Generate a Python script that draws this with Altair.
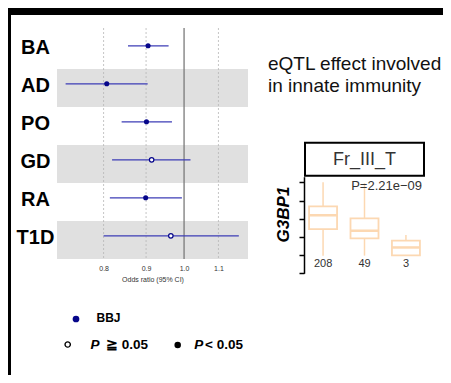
import altair as alt
import pandas as pd

FONT = "Liberation Sans"

# ---------------- forest plot data ----------------
traits = ["BA", "AD", "PO", "GD", "RA", "T1D"]
odds = [0.905, 0.807, 0.901, 0.914, 0.899, 0.964]
ci_low = [0.856, 0.720, 0.841, 0.819, 0.814, 0.800]
ci_high = [0.958, 0.904, 0.967, 1.018, 0.994, 1.164]
significant = [True, True, True, False, True, False]
shaded_rows = ["AD", "GD", "T1D"]
grid_ticks = [0.8, 0.9, 1.1]
axis_ticks = [0.8, 0.9, 1.0, 1.1]

# ---------------- box plot data ----------------
groups = ["208", "49", "3"]
box_min = [0.97, 0.97, 0.99]
box_q1 = [2.43, 1.92, 0.99]
box_med = [3.19, 2.34, 1.42]
box_q3 = [3.68, 3.02, 1.80]
box_max = [5.00, 4.95, 2.10]
strip_label = "Fr_III_T"
p_label = "P=2.21e\u221209"
gene = "G3BP1"

forest = pd.DataFrame({"trait": traits, "OR": odds, "lo": ci_low,
                       "hi": ci_high, "sig": significant})
bands = pd.DataFrame({"trait": shaded_rows})
grid = pd.DataFrame({"v": grid_ticks})
box = pd.DataFrame({"g": groups, "mn": box_min, "q1": box_q1, "med": box_med,
                    "q3": box_q3, "mx": box_max})

W1, H1 = 191, 231
NAVY = "#06068a"
LINE = "#3c3cb6"
PEACH = "#fcd8b2"

xs = alt.Scale(type="log", domain=[0.703, 1.194], nice=False, zero=False)
ys = alt.Scale(type="band", domain=traits, paddingInner=0, paddingOuter=0, range=[3, 231])

x_axis = alt.Axis(values=axis_ticks, format=".1f", labelFontSize=7, labelColor="#333",
                  ticks=False, tickSize=0, domain=False, grid=False, labelPadding=5,
                  title="Odds ratio (95% CI)", titleFontSize=7, titleFontWeight="normal",
                  titleColor="#333", titlePadding=4, labelFont=FONT, titleFont=FONT)
y_axis = alt.Axis(title=None, labelFontSize=20, labelFontWeight="bold", labelColor="black",
                  labelAlign="center", labelBaseline="middle", labelPadding=22, labelOffset=-2.5,
                  ticks=False, tickSize=0, domain=False, grid=False, labelFont=FONT,
                  labelLimit=200)

band_layer = alt.Chart(bands).mark_rect(color="#e0e0e0").encode(
    y=alt.Y("trait:N", scale=ys, axis=y_axis),
    x=alt.value(0), x2=alt.value(W1))
grid_layer = alt.Chart(grid).mark_rule(color="#b5b5b5", strokeDash=[2, 2], strokeWidth=0.8).encode(
    x=alt.X("v:Q", scale=xs, axis=x_axis))
ref_layer = alt.Chart(pd.DataFrame({"v": [1.0]})).mark_rule(color="#7a7a7a", strokeWidth=1.3).encode(
    x=alt.X("v:Q", scale=xs))
ci_layer = alt.Chart(forest).mark_rule(color=LINE, strokeWidth=1.3, yOffset=-4.2).encode(
    x=alt.X("lo:Q", scale=xs, axis=x_axis), x2="hi:Q",
    y=alt.Y("trait:N", scale=ys, axis=y_axis))
pt_fill = alt.Chart(forest).transform_filter("datum.sig").mark_circle(
    color=NAVY, size=26, opacity=1, yOffset=-4.2).encode(
    x=alt.X("OR:Q", scale=xs), y=alt.Y("trait:N", scale=ys))
pt_open = alt.Chart(forest).transform_filter("!datum.sig").mark_point(
    shape="circle", stroke=NAVY, fill="white", filled=False, size=20, strokeWidth=1.2,
    opacity=1, fillOpacity=1, yOffset=-4.2).encode(
    x=alt.X("OR:Q", scale=xs), y=alt.Y("trait:N", scale=ys))

# manual legend and frame decorations
one = pd.DataFrame({"a": [0]})
def txt(s, x, y, size, weight="bold", style="normal", align="left", color="black", baseline="middle"):
    return alt.Chart(one).mark_text(text=s, fontSize=size, fontWeight=weight, fontStyle=style,
                                    align=align, baseline=baseline, color=color, font=FONT).encode(
        x=alt.value(x), y=alt.value(y))

leg = [
    alt.Chart(one).mark_circle(color=NAVY, size=45, opacity=1).encode(x=alt.value(19), y=alt.value(291)),
    txt("BBJ", 39.5, 290, 12),
    alt.Chart(one).mark_point(shape="circle", stroke="black", fill="white", size=28, strokeWidth=1.4,
                              opacity=1).encode(x=alt.value(10.7), y=alt.value(316.5)),
    txt("P", 33.5, 316.5, 13.5, style="italic"),
    txt("\u2267 0.05", 49, 316.5, 13.5),
    alt.Chart(one).mark_circle(color="black", size=42, opacity=1).encode(x=alt.value(120.7), y=alt.value(317)),
    txt("P", 137.3, 316.5, 13.5, style="italic"),
    txt("< 0.05", 148, 316.5, 13.5),
]
frame = [
    alt.Chart(one).mark_rect(color="black").encode(
        x=alt.value(-49), x2=alt.value(386), y=alt.value(-20), y2=alt.value(-13)),
    alt.Chart(one).mark_rect(color="black").encode(
        x=alt.value(-49), x2=alt.value(-46), y=alt.value(-20), y2=alt.value(347)),
]

left = alt.layer(band_layer, grid_layer, ref_layer, ci_layer, pt_fill, pt_open, *leg, *frame).properties(
    width=W1, height=H1)

# ---------------- right panel ----------------
W2, H2 = 121, 245
bx = alt.Scale(type="band", domain=groups, paddingInner=0.24, paddingOuter=0.08)
by = alt.Scale(domain=[0, 5.31], range=[245.3, 148.7], nice=False, zero=False)
by_axis = alt.Axis(values=[0, 1, 2, 3, 4, 5], labels=False, ticks=True, tickSize=5, tickWidth=1.5,
                   tickColor="black", domain=True, domainColor="black", domainWidth=1.5, grid=False,
                   title=gene, titleFontStyle="italic", titleFontWeight="bold", titleFontSize=17,
                   titleColor="black", titleFont=FONT, titleX=-21, titleY=186, titleAngle=-90,
                   titleAlign="center", titleBaseline="middle")

whisk = alt.Chart(box).mark_rule(color=PEACH, strokeWidth=1.5).encode(
    x=alt.X("g:N", scale=bx, axis=None), y=alt.Y("mn:Q", scale=by, axis=by_axis), y2="mx:Q")
boxes = alt.Chart(box).mark_bar(fill="white", stroke=PEACH, strokeWidth=1.8, size=28).encode(
    x=alt.X("g:N", scale=bx, axis=None), y=alt.Y("q1:Q", scale=by), y2="q3:Q")
meds = alt.Chart(box).mark_tick(color=PEACH, thickness=2.5, size=28, opacity=1).encode(
    x=alt.X("g:N", scale=bx, axis=None), y=alt.Y("med:Q", scale=by))
counts = alt.Chart(box).mark_text(fontSize=11, color="#333", font=FONT, baseline="middle").encode(
    x=alt.X("g:N", scale=bx, axis=None), y=alt.value(236), text="g:N")

strip = alt.Chart(one).mark_rect(fill="white", stroke="black", strokeWidth=2).encode(
    x=alt.value(1), x2=alt.value(120), y=alt.value(114.7), y2=alt.value(147.7))
right_txt = [
    txt(strip_label, 60.5, 131.5, 18, weight="normal", align="center", color="#333"),
    txt(p_label, 118, 162, 13, weight="normal", align="right", color="#333", baseline="alphabetic"),
    txt("eQTL effect involved", -36, 41.7, 19, weight="normal", color="#111", baseline="alphabetic"),
    txt("in innate immunity", -36, 64.3, 19, weight="normal", color="#111", baseline="alphabetic"),
]

right = alt.layer(whisk, boxes, meds, counts, strip, *right_txt).properties(width=W2, height=H2)

chart = alt.hconcat(left, right, spacing=56, bounds="flush").properties(
    padding=0, background="white"
).configure_view(stroke=None).resolve_scale(x="independent", y="independent")

chart.save("out.html", embed_options={"renderer": "svg", "actions": False})
